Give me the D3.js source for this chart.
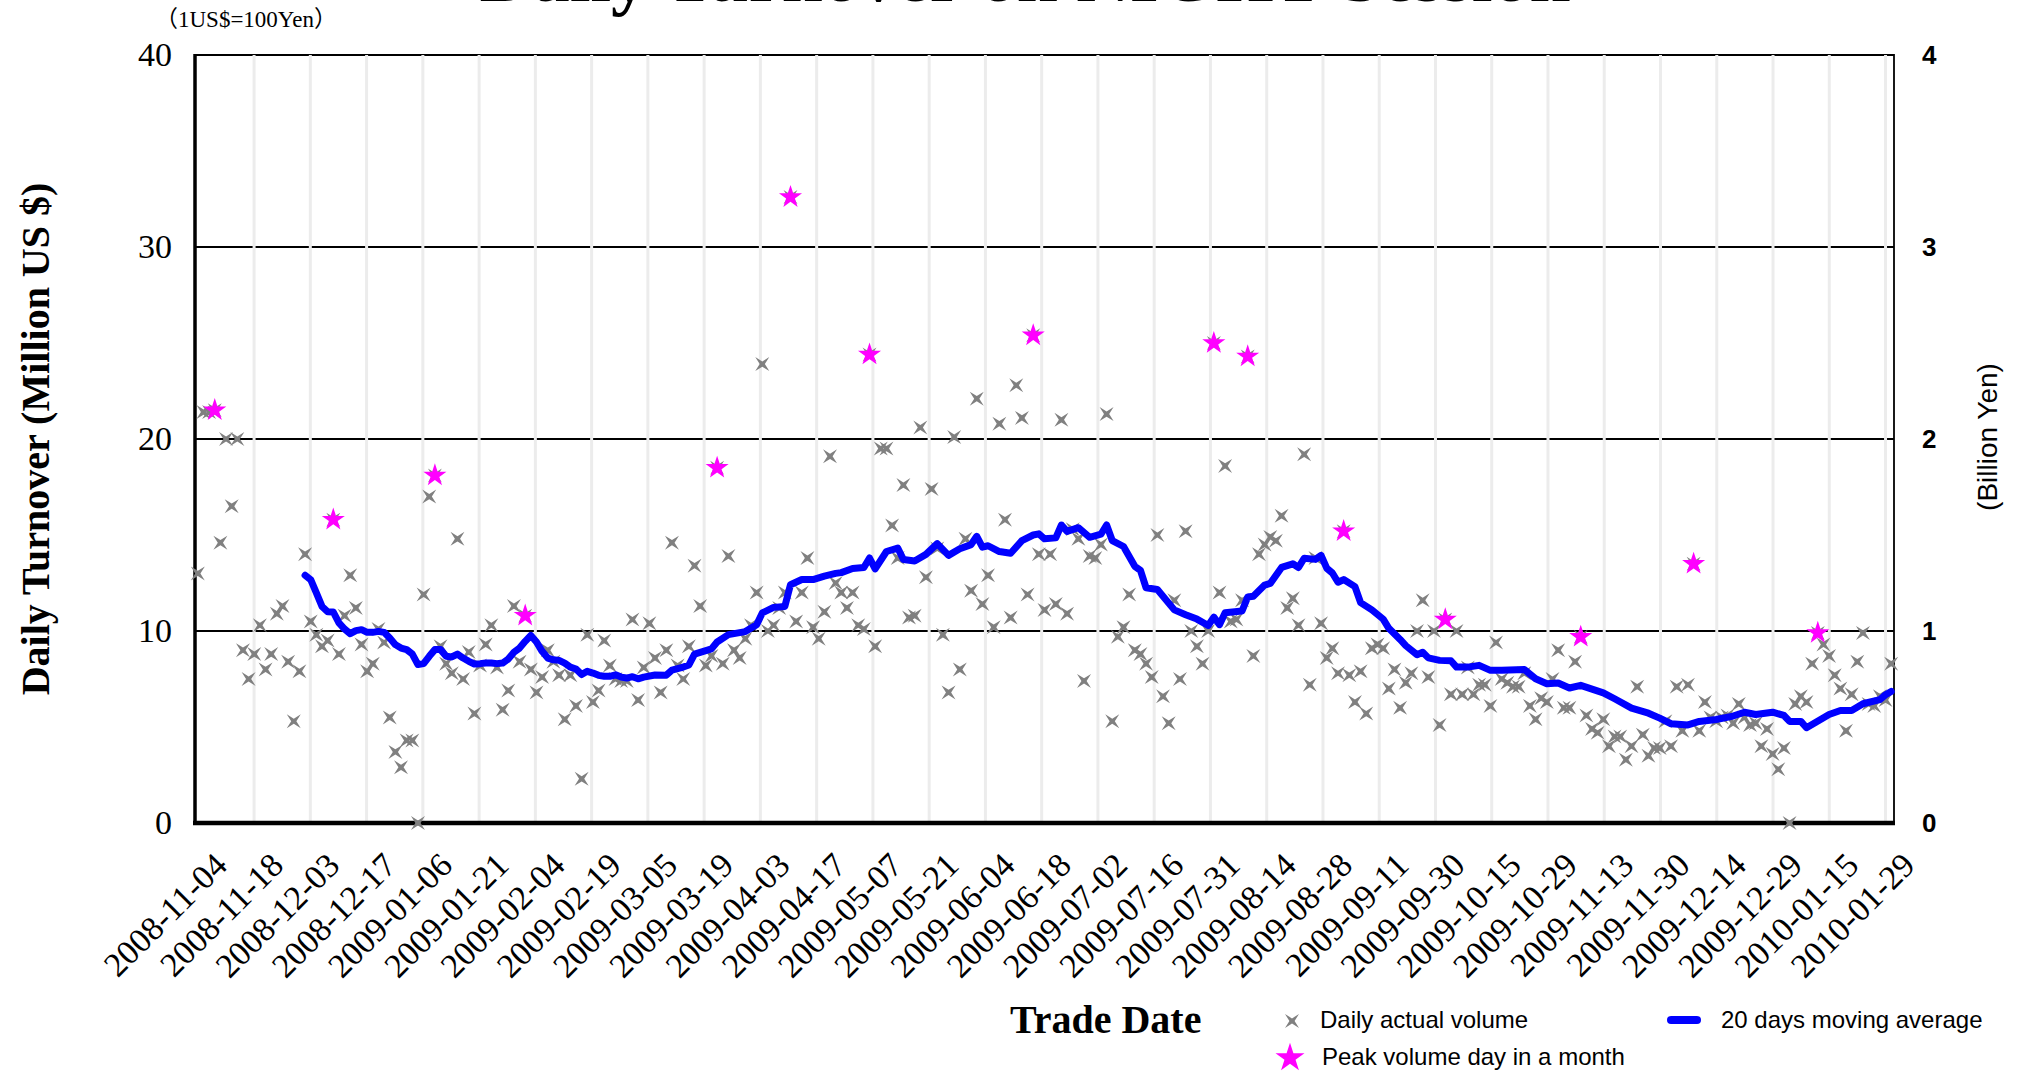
<!DOCTYPE html>
<html>
<head>
<meta charset="utf-8">
<script src="https://cdn.jsdelivr.net/npm/d3@7"></script>
<style>
  body { margin: 0; background: #fff; }
  svg { display: block; }
</style>
</head>
<body>
<script>
// daily turnover, one value per trading day (million US $)
var daily = [
  13.0, 21.4, 21.4, 21.5, 14.6, 20.0, 16.5, 20.0, 9.0, 7.5,
  8.8, 10.3, 8.0, 8.8, 10.9, 11.3, 8.4, 5.3, 7.9, 14.0,
  10.5, 9.8, 9.2, 9.5, 15.8, 8.8, 10.8, 12.9, 11.2, 9.3,
  7.9, 8.3, 10.1, 9.4, 5.5, 3.7, 2.9, 4.3, 4.3, 0.0,
  11.9, 17.0, 18.1, 9.2, 8.3, 7.8, 14.8, 7.5, 8.9, 5.7,
  8.2, 9.3, 10.3, 8.1, 5.9, 6.9, 11.3, 8.4, 10.8, 8.0,
  6.8, 7.6, 9.0, 8.4, 7.7, 5.4, 7.7, 6.1, 2.3, 9.8,
  6.3, 6.9, 9.5, 8.2, 7.5, 7.4, 7.4, 10.6, 6.4, 8.1,
  10.4, 8.6, 6.8, 9.0, 14.6, 8.2, 7.5, 9.2, 13.4, 11.3,
  8.2, 8.7, 18.5, 8.3, 13.9, 9.0, 8.6, 9.6, 10.3, 12.0,
  23.9, 10.0, 10.3, 11.2, 12.0, 32.6, 10.5, 12.0, 13.8, 10.2,
  9.6, 11.0, 19.1, 12.5, 12.0, 11.2, 12.0, 10.3, 10.1, 24.4,
  9.2, 19.5, 19.5, 15.5, 13.8, 17.6, 10.7, 10.8, 20.6, 12.8,
  17.4, 14.3, 9.8, 6.8, 20.1, 8.0, 14.8, 12.1, 22.1, 11.4,
  12.9, 10.2, 20.8, 15.8, 10.7, 22.8, 21.1, 11.9, 25.4, 14.0,
  11.1, 14.0, 11.4, 21.0, 10.9, 15.3, 14.8, 7.4, 13.9, 13.8,
  14.5, 21.3, 5.3, 9.7, 10.2, 11.9, 9.0, 8.8, 8.3, 7.6,
  15.0, 6.6, 5.2, 11.6, 7.5, 15.2, 10.0, 9.2, 8.3, 10.0,
  25.0, 12.0, 18.6, 10.5, 10.6, 11.6, 24.3, 8.7, 14.0, 14.5,
  14.9, 14.7, 16.0, 11.2, 11.7, 10.3, 19.2, 7.2, 13.8, 10.4,
  8.6, 9.1, 7.8, 15.2, 7.7, 6.3, 7.9, 5.7, 9.1, 9.3,
  9.1, 7.0, 8.0, 6.0, 7.3, 7.8, 10.0, 11.6, 7.6, 10.0,
  5.1, 10.6, 6.7, 10.0, 6.7, 8.1, 6.7, 7.2, 7.2, 6.1,
  9.4, 7.5, 7.3, 7.1, 7.1, 7.8, 6.1, 5.4, 6.5, 6.3,
  7.5, 9.0, 6.0, 6.0, 8.4, 9.7, 5.6, 4.9, 4.7, 5.4,
  4.0, 4.5, 4.5, 3.3, 4.0, 7.1, 4.6, 3.5, 3.9, 3.9,
  5.3, 4.0, 7.1, 4.8, 7.2, 13.5, 4.8, 6.3, 5.5, 5.3,
  5.5, 5.6, 5.2, 6.2, 5.5, 5.1, 5.2, 4.0, 4.9, 3.6,
  2.8, 3.9, 0.0, 6.2, 6.6, 6.3, 8.3, 9.9, 9.3, 8.7,
  7.7, 7.0, 4.8, 6.7, 8.4, 9.9, 6.2, 6.1, 6.6, 6.4,
  8.3
];

// peak volume day in each month
var peakDay   = [3, 24, 42, 58, 92, 105, 119, 148, 180, 186, 203, 221, 245, 265, 287];
var peakValue = [21.5, 15.8, 18.1, 10.8, 18.5, 32.6, 24.4, 25.4, 25.0, 24.3, 15.2, 10.6, 9.7, 13.5, 9.9];

// 20 days moving average
var maDay = [19,20,21,22,23,24,25,26,27,28,29,30,31,32,33,34,35,36,37,38,39,40,41,42,43,44,45,46,47,48,49,
  50,51,52,53,54,55,56,57,58,59,60,61,62,63,64,65,66,67,68,69,70,71,72,73,74,75,76,77,78,79,81,83,84,86,87,88,
  91,92,94,97,99,100,102,104,105,107,109,111,113,114,116,118,119,120,122,124,125,127,129,131,133,135,137,138,
  139,140,142,144,146,148,149,150,152,153,154,156,158,160,161,162,164,166,167,168,170,173,175,177,179,180,181,
  182,185,186,187,189,190,192,194,195,196,198,199,200,201,202,203,205,206,208,210,211,213,214,216,217,218,220,
  222,223,225,227,229,231,235,237,239,241,243,245,249,251,254,257,259,261,264,266,269,272,274,276,279,281,282,
  284,285,289,291,293,295,298,299,300];
var maValue = [12.9,12.67,11.98,11.28,11.0,10.99,10.42,10.1,9.86,10.02,10.07,9.93,9.93,9.98,9.93,9.64,9.29,9.11,
  9.03,8.8,8.25,8.3,8.68,9.03,9.03,8.68,8.65,8.8,8.59,8.42,8.28,
  8.3,8.33,8.33,8.3,8.33,8.54,8.89,9.11,9.46,9.77,9.43,8.94,8.59,8.5,8.47,8.33,8.12,8.02,7.73,7.9,7.81,7.69,
  7.64,7.64,7.72,7.6,7.55,7.62,7.51,7.6,7.71,7.7,7.96,8.12,8.23,8.8,
  9.07,9.43,9.81,9.97,10.33,10.94,11.23,11.28,12.41,12.68,12.68,12.86,13.0,13.04,13.26,13.31,13.8,13.24,14.14,
  14.32,13.72,13.65,13.99,14.55,13.94,14.28,14.5,14.93,
  14.37,14.44,14.14,14.05,14.71,15.0,15.06,14.8,14.85,15.52,15.19,15.38,14.88,15.04,15.52,14.71,14.4,13.37,
  13.16,12.25,12.16,11.1,10.85,10.62,10.29,10.72,10.33,
  10.95,11.04,11.77,11.81,12.39,12.48,13.31,13.5,13.31,13.79,13.73,13.94,13.27,13.02,12.54,12.68,12.31,11.48,
  11.1,10.62,10.14,9.56,9.24,8.76,8.89,8.6,8.47,
  8.45,8.12,8.12,8.21,7.95,7.95,8.0,7.51,7.25,7.29,7.03,7.17,6.78,6.47,5.98,5.72,5.46,5.17,5.11,5.29,5.39,5.57,
  5.77,5.65,5.77,5.6,5.29,
  5.29,4.96,5.65,5.86,5.86,6.21,6.43,6.68,6.85];

var tickLabels = ["2008-11-04","2008-11-18","2008-12-03","2008-12-17","2009-01-06","2009-01-21","2009-02-04",
  "2009-02-19","2009-03-05","2009-03-19","2009-04-03","2009-04-17","2009-05-07","2009-05-21","2009-06-04",
  "2009-06-18","2009-07-02","2009-07-16","2009-07-31","2009-08-14","2009-08-28","2009-09-11","2009-09-30",
  "2009-10-15","2009-10-29","2009-11-13","2009-11-30","2009-12-14","2009-12-29","2010-01-15","2010-01-29"];
var lastTickDay = 299;   // the labels are spread evenly from day 0 to this day

var leftTicks = [0, 10, 20, 30, 40];
var rightTicks = [0, 1, 2, 3, 4];

var width = 2017, height = 1072;
var margin = {top: 55, right: 123, bottom: 249, left: 195};
var plotW = width - margin.left - margin.right,
    plotH = height - margin.top - margin.bottom;

var serif = "'Liberation Serif', 'Times New Roman', serif",
    sans = "'Liberation Sans', Arial, sans-serif";

var svg = d3.select("body").append("svg")
    .attr("width", width)
    .attr("height", height);

// title, mostly cut off by the top edge (as in the original)
svg.append("text")
    .attr("x", 1025).attr("y", 1)
    .attr("text-anchor", "middle")
    .style("font-family", serif).style("font-weight", "bold").style("font-size", "74px")
    .text("Daily Turnover on NIGHT Session");

svg.append("text")
    .attr("x", 155).attr("y", 27)
    .style("font-family", serif + ", 'Noto Sans CJK JP'").style("font-size", "23px")
    .text("（1US$=100Yen）");

var g = svg.append("g")
    .attr("transform", "translate(" + margin.left + "," + margin.top + ")");

var x = d3.scaleBand()
    .domain(d3.range(daily.length))
    .range([0, plotW]);
var xc = function(i) { return x(i) + x.bandwidth() / 2; };
var tickX = d3.scaleLinear()
    .domain([0, tickLabels.length - 1])
    .range([xc(0), xc(lastTickDay)]);

var y = d3.scaleLinear().domain([0, 40]).range([plotH, 0]);
var y2 = d3.scaleLinear().domain([0, 4]).range([plotH, 0]);

// horizontal grid
g.append("g").selectAll("line")
    .data(leftTicks.slice(1))
  .enter().append("line")
    .attr("x1", 0).attr("x2", plotW)
    .attr("y1", function(d) { return y(d); })
    .attr("y2", function(d) { return y(d); })
    .attr("stroke", "#000").attr("stroke-width", 2);

// vertical grid (light, drawn over the black lines)
g.append("g").selectAll("line")
    .data(d3.range(1, tickLabels.length))
  .enter().append("line")
    .attr("x1", function(d) { return tickX(d); })
    .attr("x2", function(d) { return tickX(d); })
    .attr("y1", 0).attr("y2", plotH)
    .attr("stroke", "#ececec").attr("stroke-width", 3);

// axis lines
g.append("line").attr("x1", 0).attr("x2", 0).attr("y1", -1).attr("y2", plotH)
    .attr("stroke", "#000").attr("stroke-width", 3.5);
g.append("line").attr("x1", plotW).attr("x2", plotW).attr("y1", -1).attr("y2", plotH)
    .attr("stroke", "#000").attr("stroke-width", 1.8);
g.append("line").attr("x1", -2).attr("x2", plotW + 1).attr("y1", plotH).attr("y2", plotH)
    .attr("stroke", "#000").attr("stroke-width", 4.5);

// left axis labels
var yAxis = g.append("g")
    .call(d3.axisLeft(y).tickValues(leftTicks).tickSize(0).tickPadding(23));
yAxis.select(".domain").remove();
yAxis.selectAll("text")
    .style("font-family", serif).style("font-size", "34px").attr("fill", "#000");

// right axis labels
var yAxis2 = g.append("g")
    .attr("transform", "translate(" + plotW + ",0)")
    .call(d3.axisRight(y2).tickValues(rightTicks).tickFormat(d3.format("d")).tickSize(0).tickPadding(28));
yAxis2.select(".domain").remove();
yAxis2.selectAll("text")
    .style("font-family", sans).style("font-size", "26px").style("font-weight", "bold").attr("fill", "#000");

// x labels, rotated
g.append("g").selectAll("text")
    .data(tickLabels)
  .enter().append("text")
    .attr("transform", function(d, i) {
      return "translate(" + (tickX(i) + 14) + "," + (plotH + 27) + ") rotate(-45)"; })
    .attr("text-anchor", "end")
    .attr("dy", "0.72em")
    .style("font-family", serif).style("font-size", "34px")
    .text(function(d) { return d; });

// axis titles
svg.append("text")
    .attr("transform", "translate(35,439) rotate(-90)")
    .attr("text-anchor", "middle").attr("dy", "0.35em")
    .style("font-family", serif).style("font-weight", "bold").style("font-size", "40px")
    .text("Daily Turnover (Million US $)");

svg.append("text")
    .attr("transform", "translate(1987,437) rotate(-90)")
    .attr("text-anchor", "middle").attr("dy", "0.35em")
    .style("font-family", sans).style("font-size", "28px")
    .text("(Billion Yen)");

svg.append("text")
    .attr("x", 1010).attr("y", 1033)
    .style("font-family", serif).style("font-weight", "bold").style("font-size", "40px")
    .text("Trade Date");

// markers
var crossPath = "M-7,-7L0,-2.6L7,-7L2.6,0L7,7L0,2.6L-7,7L-2.6,0Z";
var star = d3.symbol().type(d3.symbolStar).size(165);

g.append("g").selectAll("path")
    .data(daily)
  .enter().append("path")
    .attr("d", crossPath)
    .attr("transform", function(d, i) { return "translate(" + xc(i) + "," + y(d) + ")"; })
    .attr("fill", "#808080");

var line = d3.line()
    .x(function(d) { return xc(d[0]); })
    .y(function(d) { return y(d[1]); });

g.append("path")
    .datum(maDay.map(function(d, i) { return [d, maValue[i]]; }))
    .attr("d", line)
    .attr("fill", "none")
    .attr("stroke", "#0000ff")
    .attr("stroke-width", 7)
    .attr("stroke-linejoin", "round")
    .attr("stroke-linecap", "round");

g.append("g").selectAll("path")
    .data(peakDay)
  .enter().append("path")
    .attr("d", star)
    .attr("transform", function(d, i) { return "translate(" + xc(d) + "," + y(peakValue[i]) + ")"; })
    .attr("fill", "#ff00ff");

// legend
var legend = svg.append("g");
legend.append("path").attr("d", crossPath)
    .attr("transform", "translate(1292,1021)").attr("fill", "#808080");
legend.append("text").attr("x", 1320).attr("y", 1028)
    .style("font-family", sans).style("font-size", "24px").text("Daily actual volume");
legend.append("path").attr("d", d3.symbol().type(d3.symbolStar).size(260))
    .attr("transform", "translate(1290,1058)").attr("fill", "#ff00ff");
legend.append("text").attr("x", 1322).attr("y", 1065)
    .style("font-family", sans).style("font-size", "24px").text("Peak volume day in a month");
legend.append("line").attr("x1", 1671).attr("x2", 1697).attr("y1", 1020).attr("y2", 1020)
    .attr("stroke", "#0000ff").attr("stroke-width", 8).attr("stroke-linecap", "round");
legend.append("text").attr("x", 1721).attr("y", 1028)
    .style("font-family", sans).style("font-size", "24px").text("20 days moving average");
</script>
</body>
</html>
